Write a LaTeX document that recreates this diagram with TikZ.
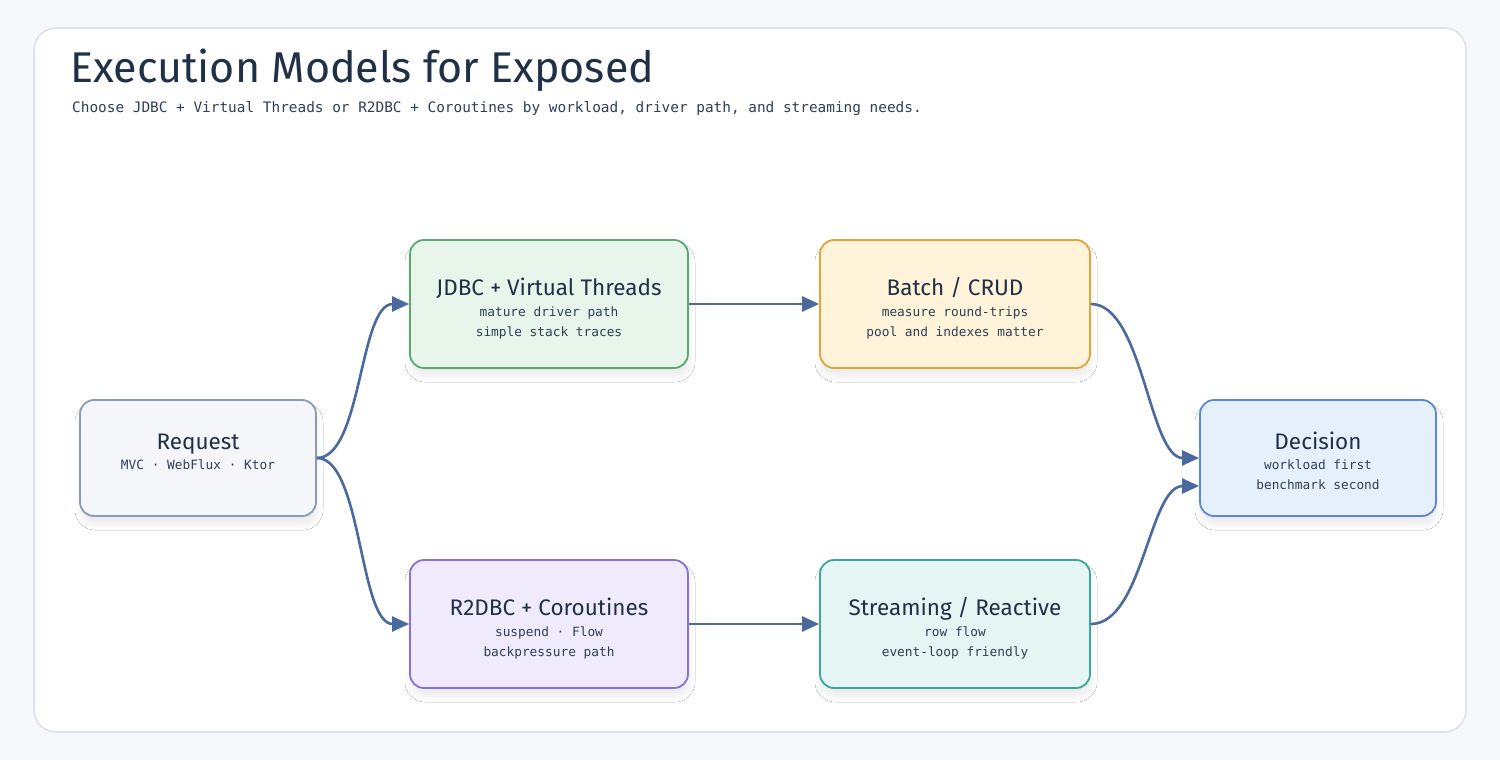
\documentclass[tikz,border=0pt]{standalone}
\usepackage{fontspec}
\setmainfont{Fira Sans}
\newfontfamily\monof{DejaVu Sans Mono}
\usetikzlibrary{arrows.meta,shadows.blur}
\definecolor{bgc}{HTML}{F6F8FB}
\definecolor{panelb}{HTML}{DCE3EC}
\definecolor{ink}{HTML}{1F3047}
\definecolor{inksub}{HTML}{2E3F55}
\definecolor{edgec}{HTML}{4A6A9E}
\definecolor{reqf}{HTML}{F4F6FA}\definecolor{reqd}{HTML}{8A9BB3}
\definecolor{jdbcf}{HTML}{E8F5EA}\definecolor{jdbcd}{HTML}{5AAA6E}
\definecolor{batf}{HTML}{FFF3D9}\definecolor{batd}{HTML}{E0A43C}
\definecolor{decf}{HTML}{E6F0FD}\definecolor{decd}{HTML}{5B87D4}
\definecolor{r2f}{HTML}{F0EAFD}\definecolor{r2d}{HTML}{8C6FD6}
\definecolor{stf}{HTML}{E5F5F3}\definecolor{std}{HTML}{3BA69A}
\begin{document}
\begin{tikzpicture}[x=1pt,y=-1pt,
  card/.style={draw, line width=1.8pt, rounded corners=14pt, inner sep=0pt,
    blur shadow={shadow xshift=1pt, shadow yshift=-8pt, shadow opacity=8, shadow blur radius=6pt, shadow blur steps=10}},
  ttl/.style={anchor=base, text=ink, font=\fontsize{22.5}{26}\selectfont},
  sub/.style={anchor=base, text=inksub, font=\monof\fontsize{12.8}{15}\selectfont},
  conn/.style={draw=edgec, line width=2.6pt, -{Triangle[length=17pt,width=15pt]}}]
\useasboundingbox (0,0) rectangle (1500,760);
\fill[bgc] (0,0) rectangle (1500,760);
\draw[panelb, line width=1.6pt, fill=white, rounded corners=22pt] (34,28) rectangle (1466,732);
\node[anchor=base west, text=ink, font=\fontsize{43}{48}\selectfont, inner sep=0pt] (title) at (70,83) {Execution Models for Exposed};
\node[anchor=base west, text=inksub, font=\monof\fontsize{14.4}{17}\selectfont, inner sep=0pt] (subtitle) at (72,113) {Choose JDBC + Virtual Threads or R2DBC + Coroutines by workload, driver path, and streaming needs.};
% boxes
\node[card, draw=reqd, fill=reqf, minimum width=236pt, minimum height=116pt] (req) at (198,458) {};
\node[card, draw=jdbcd, fill=jdbcf, minimum width=278pt, minimum height=128pt] (jdbc) at (549,304) {};
\node[card, draw=batd, fill=batf, minimum width=270pt, minimum height=128pt] (bat) at (955,304) {};
\node[card, draw=decd, fill=decf, minimum width=236pt, minimum height=116pt] (dec) at (1318,458) {};
\node[card, draw=r2d, fill=r2f, minimum width=278pt, minimum height=128pt] (r2) at (549,624) {};
\node[card, draw=std, fill=stf, minimum width=270pt, minimum height=128pt] (st) at (955,624) {};
% texts
\node[ttl] (reqt) at (198,449) {Request};
\node[sub] (reqs) at (198,469) {MVC · WebFlux · Ktor};
\node[ttl] (jdbct) at (549,295) {JDBC + Virtual Threads};
\node[sub] (jdbcs1) at (549,316) {mature driver path};
\node[sub] (jdbcs2) at (549,336) {simple stack traces};
\node[ttl] (batt) at (955,295) {Batch / CRUD};
\node[sub] (bats1) at (955,316) {measure round-trips};
\node[sub] (bats2) at (955,336) {pool and indexes matter};
\node[ttl] (dect) at (1318,449) {Decision};
\node[sub] (decs1) at (1318,469) {workload first};
\node[sub] (decs2) at (1318,489) {benchmark second};
\node[ttl] (r2t) at (549,615) {R2DBC + Coroutines};
\node[sub] (r2s1) at (549,636) {suspend · Flow};
\node[sub] (r2s2) at (549,656) {backpressure path};
\node[ttl] (stt) at (955,615) {Streaming / Reactive};
\node[sub] (sts1) at (955,636) {row flow};
\node[sub] (sts2) at (955,656) {event-loop friendly};
% connectors
\draw[conn] (req.east) .. controls +(45,0) and +(-50,0) .. (jdbc.west);
\draw[conn] (req.east) .. controls +(45,0) and +(-50,0) .. (r2.west);
\draw[conn] (jdbc.east) -- (bat.west);
\draw[conn] (r2.east) -- (st.west);
\draw[conn] (bat.east) .. controls +(52,0) and +(-50,0) .. (dec.west);
\draw[conn] (st.east) .. controls +(52,0) and +(-50,0) .. ([yshift=-28pt]dec.west);
\end{tikzpicture}
\end{document}
